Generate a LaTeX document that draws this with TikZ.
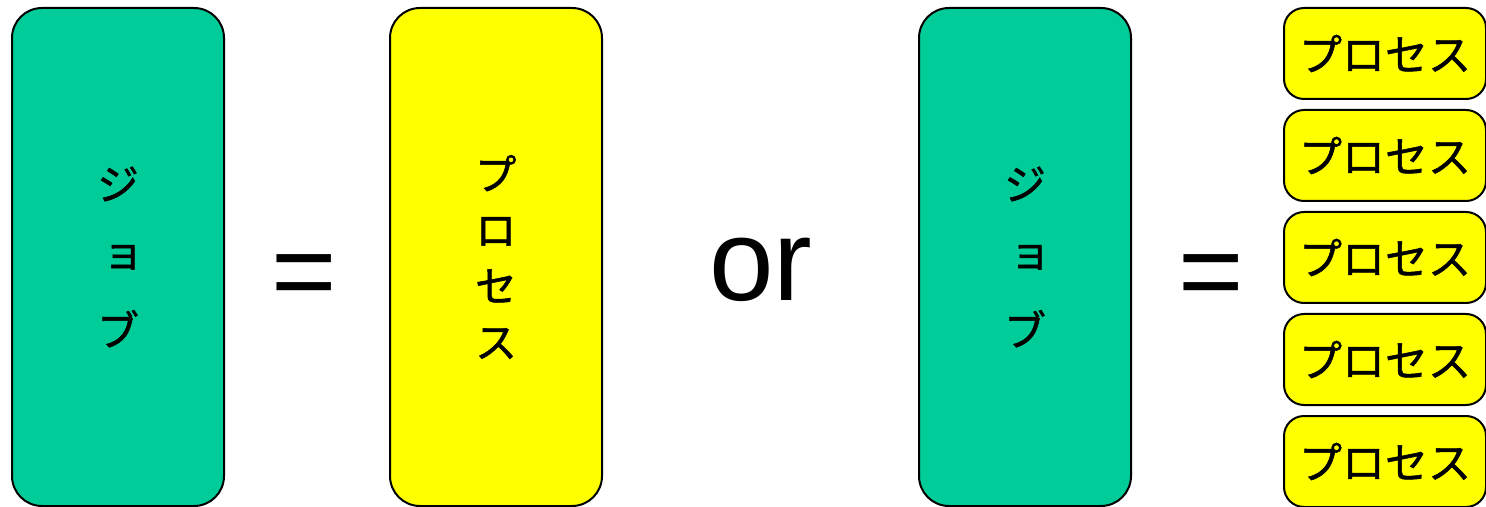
\documentclass[tikz,border=0pt]{standalone}
\usepackage{fontspec}
\setmainfont{Liberation Sans}
\newfontfamily\jpvert[RawFeature=+vert,FakeBold=1.2]{Noto Sans CJK JP}
\newfontfamily\jpflat[FakeBold=1.2]{Noto Sans CJK JP}
\definecolor{jobgreen}{RGB}{0,204,153}
\definecolor{procyellow}{RGB}{255,255,0}
\tikzset{
  bigbox/.style={draw=black,line width=1pt,rounded corners=15pt,minimum width=106pt,minimum height=249pt,inner sep=0pt,align=center},
  jobbox/.style={bigbox,fill=jobgreen,font=\jpvert\fontsize{21.5pt}{36.5pt}\selectfont},
  procbox/.style={bigbox,fill=procyellow,font=\jpvert\fontsize{21.5pt}{28pt}\selectfont},
  smallproc/.style={draw=black,line width=1pt,rounded corners=10pt,fill=procyellow,minimum width=101pt,minimum height=45.5pt,inner sep=0pt,font=\jpflat\fontsize{21.5pt}{24pt}\selectfont},
  bigsym/.style={anchor=base,inner sep=0pt,font=\fontsize{56pt}{60pt}\selectfont}
}

\begin{document}
\begin{tikzpicture}[x=0.5pt,y=-0.5pt]
  \useasboundingbox (0,0) rectangle (1486,507);
  \node[jobbox] (job1) at (118,257) {ジ\\ョ\\ブ};
  \node[bigsym] (eq1) at (304,309) {=};
  \node[procbox] (proc1) at (496,257) {プ\\ロ\\セ\\ス};
  \node[bigsym,font=\fontsize{58pt}{62pt}\selectfont] (or) at (761,300) {or};
  \node[jobbox] (job2) at (1025,257) {ジ\\ョ\\ブ};
  \node[bigsym] (eq2) at (1211,309) {=};
  % one job made of several processes
  \foreach \i in {0,...,4}
    \node[smallproc] (proc2-\i) at (1385,53.5+102*\i) {プロセス};
\end{tikzpicture}
\end{document}
